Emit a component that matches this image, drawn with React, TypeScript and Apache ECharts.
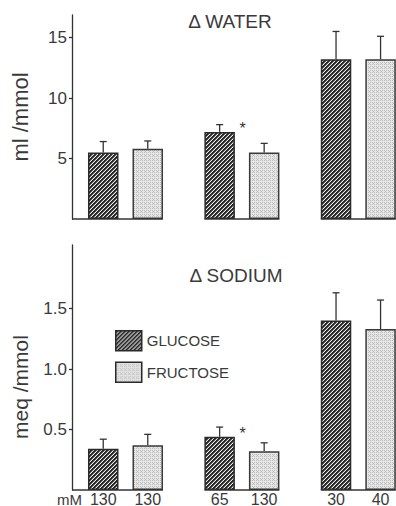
import React, { useEffect, useRef } from 'react';
import * as echarts from 'echarts';

// ---- data ----
const groups = ['130/130', '65/130', '30/40'];
const glucoseConc = ['130', '65', '30'];
const fructoseConc = ['130', '130', '40'];
const waterGlucose = [5.5, 7.2, 13.2];
const waterGlucoseErr = [0.9, 0.6, 2.3];
const waterFructose = [5.8, 5.5, 13.2];
const waterFructoseErr = [0.65, 0.75, 1.9];
const sodiumGlucose = [0.34, 0.44, 1.4];
const sodiumGlucoseErr = [0.08, 0.08, 0.23];
const sodiumFructose = [0.37, 0.32, 1.33];
const sodiumFructoseErr = [0.09, 0.07, 0.24];
const significant = [false, true, false];
const waterTicks = [5, 10, 15];
const sodiumTicks = [0.5, 1.0, 1.5];

// ---- style ----
const FONT = '"Liberation Sans", Arial, Helvetica, sans-serif';
const INK = '#333333';
const TEXT = '#3a3a3a';
const BAR_W = 30.5;
const BAR_GAP = 0.46;
const Y_OFFSET = -4.7;

function makeTile(s: number, fn: (x: number, y: number) => number[]) {
  const c = document.createElement('canvas');
  c.width = s;
  c.height = s;
  const ctx = c.getContext('2d')!;
  const img = ctx.createImageData(s, s);
  for (let y = 0; y < s; y++) {
    for (let x = 0; x < s; x++) {
      const [r, g, b] = fn(x, y);
      const i = (y * s + x) * 4;
      img.data[i] = r;
      img.data[i + 1] = g;
      img.data[i + 2] = b;
      img.data[i + 3] = 255;
    }
  }
  ctx.putImageData(img, 0, 0);
  return c;
}

export default function App() {
  const ref = useRef<HTMLDivElement>(null);
  useEffect(() => {
    document.body.style.margin = '0';
    const chart = echarts.init(ref.current!, undefined, { renderer: 'svg' });

    const hatchTile = makeTile(4, (x, y) => {
      const k = (x + y) % 4;
      return k < 2 ? [40, 40, 40] : k === 2 ? [100, 100, 100] : [238, 238, 238];
    });
    const dotTile = makeTile(4, (x, y) =>
      (x % 2 === 0 && y % 2 === 0) || (x % 4 === 1 && y % 4 === 3) ? [188, 188, 188] : [230, 230, 230]
    );
    const hatch: any = { image: hatchTile, repeat: 'repeat', imageWidth: 4, imageHeight: 4 };
    const dots: any = { image: dotTile, repeat: 'repeat', imageWidth: 4, imageHeight: 4 };

    const glucoseStyle = { color: hatch, borderColor: '#2a2a2a', borderWidth: 1.5 };
    const fructoseStyle = { color: dots, borderColor: '#3a3a3a', borderWidth: 1.5 };

    const makeRender = () => (params: any, api: any) => {
      const i = api.value(0) as number;
      const g = api.value(1) as number;
      const gE = api.value(2) as number;
      const f = api.value(3) as number;
      const fE = api.value(4) as number;
      const sig = api.value(5) as number;
      const base = api.coord([i, 0]);
      const off = (BAR_W + BAR_W * BAR_GAP) / 2;
      const gx = base[0] - off;
      const fx = base[0] + off;
      const cs = params.coordSys;
      const left = i === 0 ? cs.x - Y_OFFSET : gx - BAR_W / 2;
      const children: any[] = [
        {
          type: 'line',
          shape: { x1: left, y1: base[1], x2: fx + BAR_W / 2, y2: base[1] },
          style: { stroke: INK, lineWidth: 1.3 },
        },
      ];
      const bars: [number, number, number][] = [
        [gx, g, gE],
        [fx, f, fE],
      ];
      bars.forEach(([x, m, e]) => {
        const top = api.coord([i, m])[1];
        const et = api.coord([i, m + e])[1];
        children.push({
          type: 'line',
          shape: { x1: x, y1: top, x2: x, y2: et },
          style: { stroke: INK, lineWidth: 1.3 },
        });
        children.push({
          type: 'line',
          shape: { x1: x - 3.5, y1: et, x2: x + 3.5, y2: et },
          style: { stroke: INK, lineWidth: 1.3 },
        });
      });
      if (sig) {
        const top = api.coord([i, g])[1];
        children.push({
          type: 'text',
          x: gx + BAR_W / 2 + 7.7,
          y: top - 3.5,
          style: {
            text: '*',
            fill: INK,
            fontSize: 16,
            fontFamily: FONT,
            align: 'center',
            verticalAlign: 'middle',
          },
        });
      }
      return { type: 'group', children };
    };

    const errData = (gm: number[], ge: number[], fm: number[], fe: number[]) =>
      groups.map((_, i) => [i, gm[i], ge[i], fm[i], fe[i], significant[i] ? 1 : 0]);

    const yAxisBase = (ticks: number[], max: number, interval: number, fmt: (v: number) => string, gridIndex: number) => ({
      type: 'value',
      gridIndex,
      min: 0,
      max,
      interval,
      offset: Y_OFFSET,
      axisLine: { show: true, lineStyle: { color: INK, width: 1.3 } },
      axisTick: { show: true, length: 3, inside: false, customValues: ticks, lineStyle: { color: INK, width: 1.3 } },
      axisLabel: {
        customValues: ticks,
        margin: 5,
        fontSize: 17,
        color: TEXT,
        fontFamily: FONT,
        formatter: (v: number) => (ticks.some((t) => Math.abs(t - v) < 1e-6) ? fmt(v) : ''),
      },
      splitLine: { show: false },
    });

    const xAxisBase = (gridIndex: number) => ({
      type: 'category',
      gridIndex,
      data: groups,
      axisLine: { show: false },
      axisTick: { show: false },
      axisLabel: { show: false },
      splitLine: { show: false },
    });

    const concLabel = (arr: string[]) => ({
      show: true,
      position: 'bottom',
      distance: 1,
      fontSize: 16,
      color: TEXT,
      fontFamily: FONT,
      formatter: (p: any) => arr[p.dataIndex],
    });

    const option: any = {
      animation: false,
      backgroundColor: '#ffffff',
      grid: [
        { left: 67.3, top: 15, width: 349.2, height: 204 },
        { left: 67.3, top: 245, width: 349.2, height: 245 },
      ],
      xAxis: [xAxisBase(0), xAxisBase(1)],
      yAxis: [
        yAxisBase(waterTicks, 16.86, 5, (v) => String(v), 0),
        yAxisBase(sodiumTicks, 2.025, 0.5, (v) => v.toFixed(1), 1),
      ],
      legend: {
        orient: 'vertical',
        left: 115,
        top: 330,
        padding: 0,
        itemWidth: 26,
        itemHeight: 20,
        itemGap: 10,
        icon: 'rect',
        selectedMode: false,
        data: ['GLUCOSE', 'FRUCTOSE'],
        itemStyle: { borderColor: '#2a2a2a', borderWidth: 1.5 },
        textStyle: { fontSize: 15, color: TEXT, fontFamily: FONT },
      },
      graphic: [
        {
          type: 'text', x: 230, y: 21,
          style: { text: 'Δ WATER', fontSize: 19, fill: TEXT, fontFamily: FONT, align: 'center', verticalAlign: 'middle' },
        },
        {
          type: 'text', x: 236, y: 275,
          style: { text: 'Δ SODIUM', fontSize: 19, fill: TEXT, fontFamily: FONT, align: 'center', verticalAlign: 'middle' },
        },
        {
          type: 'text', x: 20, y: 117, rotation: Math.PI / 2,
          style: { text: 'ml /mmol', fontSize: 22, fill: TEXT, fontFamily: FONT, align: 'center', verticalAlign: 'middle' },
        },
        {
          type: 'text', x: 20, y: 387, rotation: Math.PI / 2,
          style: { text: 'meq /mmol', fontSize: 21, fill: TEXT, fontFamily: FONT, align: 'center', verticalAlign: 'middle' },
        },
        {
          type: 'text', x: 82, y: 499,
          style: { text: 'mM', fontSize: 15, fill: TEXT, fontFamily: FONT, align: 'right', verticalAlign: 'middle' },
        },
      ],
      series: [
        {
          name: 'GLUCOSE', type: 'bar', xAxisIndex: 0, yAxisIndex: 0,
          data: waterGlucose, barWidth: BAR_W, barGap: `${BAR_GAP * 100}%`, itemStyle: glucoseStyle,
        },
        {
          name: 'FRUCTOSE', type: 'bar', xAxisIndex: 0, yAxisIndex: 0,
          data: waterFructose, barWidth: BAR_W, barGap: `${BAR_GAP * 100}%`, itemStyle: fructoseStyle,
        },
        {
          name: 'GLUCOSE', type: 'bar', xAxisIndex: 1, yAxisIndex: 1,
          data: sodiumGlucose, barWidth: BAR_W, barGap: `${BAR_GAP * 100}%`, itemStyle: glucoseStyle,
          label: concLabel(glucoseConc),
        },
        {
          name: 'FRUCTOSE', type: 'bar', xAxisIndex: 1, yAxisIndex: 1,
          data: sodiumFructose, barWidth: BAR_W, barGap: `${BAR_GAP * 100}%`, itemStyle: fructoseStyle,
          label: concLabel(fructoseConc),
        },
        {
          type: 'custom', xAxisIndex: 0, yAxisIndex: 0, z: 5,
          renderItem: makeRender(),
          encode: { x: 0, y: 1 },
          data: errData(waterGlucose, waterGlucoseErr, waterFructose, waterFructoseErr),
        },
        {
          type: 'custom', xAxisIndex: 1, yAxisIndex: 1, z: 5,
          renderItem: makeRender(),
          encode: { x: 0, y: 1 },
          data: errData(sodiumGlucose, sodiumGlucoseErr, sodiumFructose, sodiumFructoseErr),
        },
      ],
    };
    chart.setOption(option);
    return () => chart.dispose();
  }, []);
  return <div ref={ref} style={{ position: 'fixed', left: 0, top: 0, width: 420, height: 506 }} />;
}
